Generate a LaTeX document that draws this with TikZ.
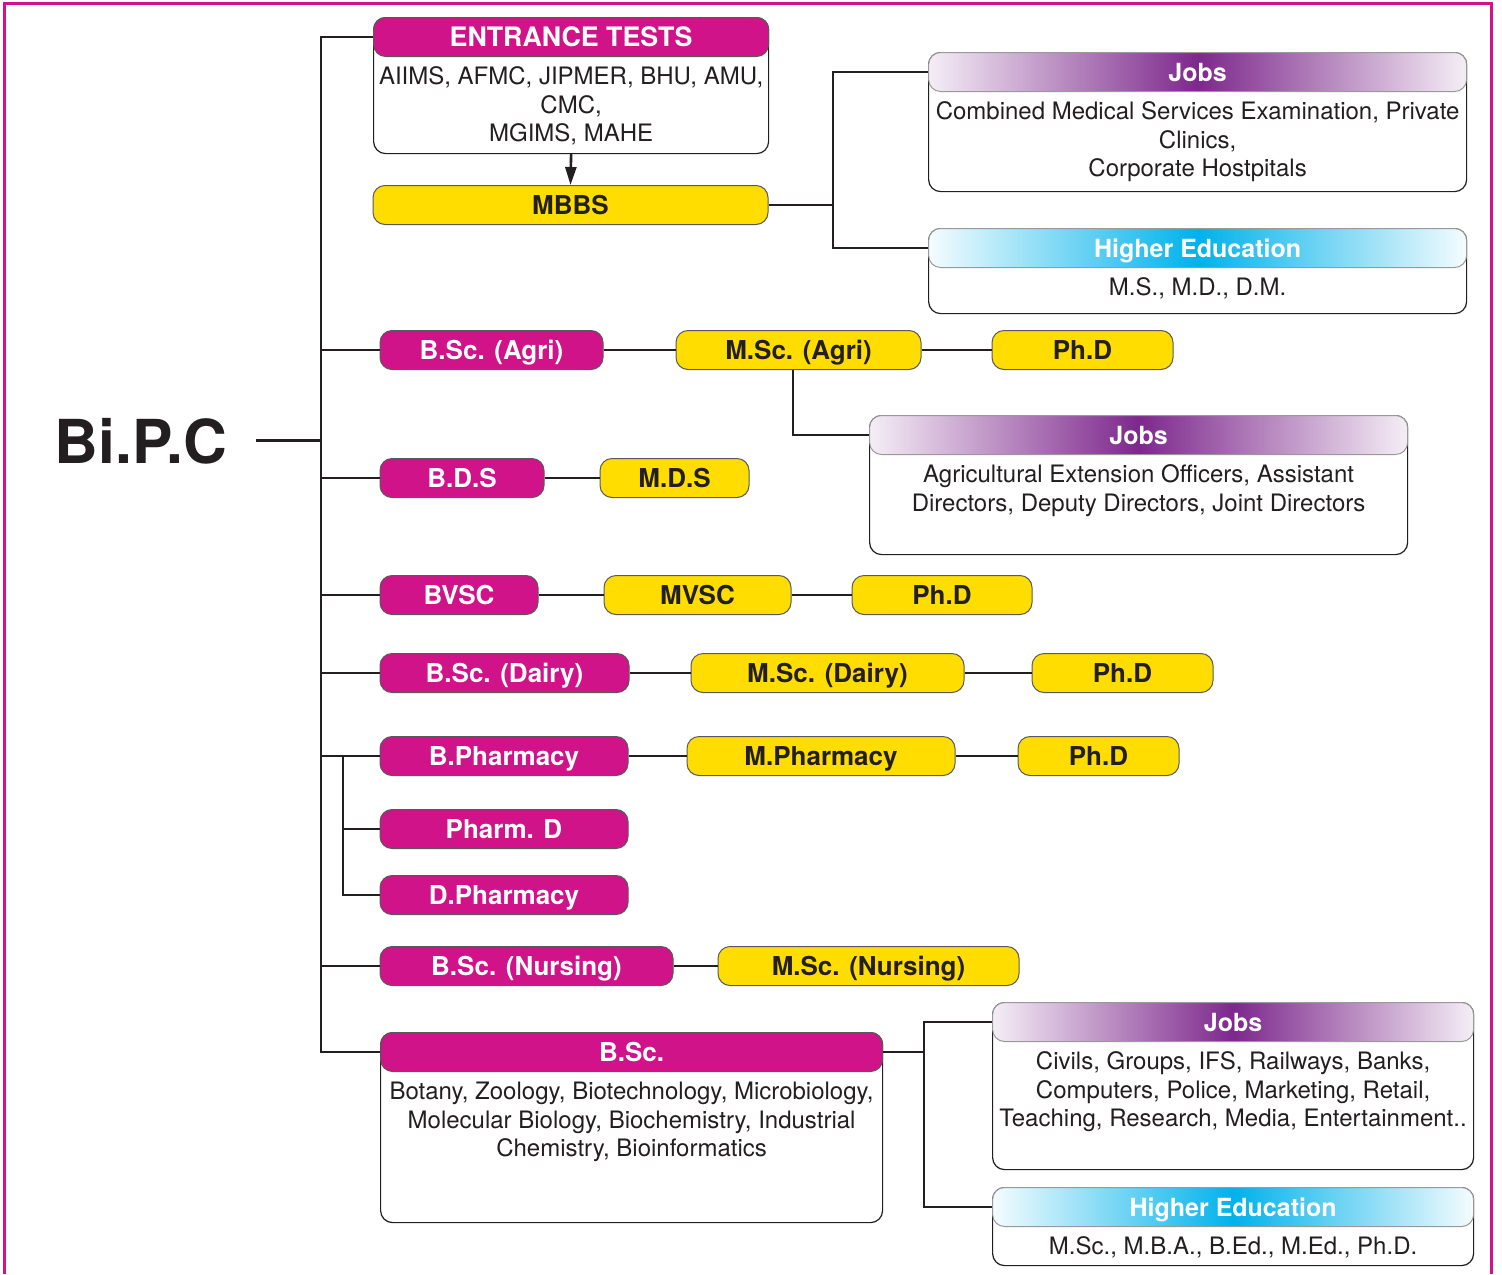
\documentclass[tikz,border=0pt]{standalone}
\usepackage{fontspec}
\setmainfont{TeX Gyre Heros}
\usetikzlibrary{arrows.meta}
\definecolor{bipcmagenta}{RGB}{209,19,138}
\definecolor{bipcyellow}{RGB}{255,221,0}
\definecolor{bipcpurple}{RGB}{125,40,140}
\definecolor{bipccyan}{RGB}{0,178,235}
\definecolor{bipcink}{RGB}{35,31,32}
\begin{document}
\begin{tikzpicture}
[x=0.5pt,y=-0.5pt,
 pill/.style={shape=rectangle,rounded corners=6pt,draw=black!65,line width=0.5pt,%
   font=\fontsize{13}{15}\selectfont\bfseries,minimum height=19.5pt,%
   text height=11.8pt,text depth=2.5pt,inner sep=0pt},%
 bachelor/.style={pill,fill=bipcmagenta,text=white},%
 master/.style={pill,fill=bipcyellow,text=bipcink},%
 jobshead/.style={pill,draw=black!40,text=white,font=\fontsize{12.5}{15}\selectfont\bfseries,%
   left color=bipcpurple!8,right color=bipcpurple!8,middle color=bipcpurple},%
 studyhead/.style={pill,draw=black!40,text=white,font=\fontsize{12.5}{15}\selectfont\bfseries,%
   left color=bipccyan!4,right color=bipccyan!4,middle color=bipccyan},%
 infobox/.style={shape=rectangle,rounded corners=6pt,draw=bipcink,line width=0.6pt,fill=white,inner sep=0pt},%
 infotext/.style={font=\fontsize{12}{14.25}\selectfont,text=bipcink,align=center,inner sep=0pt},%
 link/.style={-,line width=1.3pt,draw=bipcink}]
\useasboundingbox (0,0) rectangle (1502,1274);
%% frame
\draw[line width=1.5pt,draw=bipcmagenta] (4.5,1274) -- (4.5,3.5) -- (1491,3.5) -- (1491,1274);
%% stream
\node[font=\fontsize{30.3}{32}\selectfont\bfseries,text=bipcink,inner xsep=14pt,anchor=base] (bipc) at (141,463) {Bi.P.C};
\coordinate (trunk) at (321,0);
\coordinate (pharmtrunk) at (343,0);
\coordinate (mbbsfork) at (833,0);
\coordinate (bscfork) at (924,0);
%% degree courses
\foreach \nodename/\x/\y/\w/\txt in {
  bagri/491.5/350/223/{B.Sc. (Agri)}, bds/462/478/164/B.D.S, bvsc/459/595/158/BVSC,
  bdairy/504.5/673/249/{B.Sc. (Dairy)}, bpharm/504/756/248/B.Pharmacy,
  pharmd/504/829/248/{Pharm. D}, dpharm/504/895/248/D.Pharmacy,
  bnurse/526.5/966/293/{B.Sc. (Nursing)}} {
  \node[bachelor,minimum width=\w*0.5pt] (\nodename) at (\x,\y) {\txt};
}
\foreach \nodename/\x/\y/\w/\txt in {
  mbbs/570.5/205/395/MBBS, magri/798.5/350/245/{M.Sc. (Agri)}, phdagri/1082.5/350/181/Ph.D,
  mds/674.5/478/149/M.D.S, mvsc/697.5/595/187/MVSC, phdvsc/942/595/180/Ph.D,
  mdairy/827.5/673/273/{M.Sc. (Dairy)}, phddairy/1122.5/673/181/Ph.D,
  mpharm/821/756/268/M.Pharmacy, phdpharm/1098.5/756/161/Ph.D,
  mnurse/868.5/966/301/{M.Sc. (Nursing)}} {
  \node[master,minimum width=\w*0.5pt] (\nodename) at (\x,\y) {\txt};
}
%% boxes with a heading
\node[infobox,minimum width=197.5pt,minimum height=68pt,anchor=north west] (entr) at (373,17) {};
\node[bachelor,minimum width=197.5pt,anchor=north,font=\fontsize{13.4}{15}\selectfont\bfseries] (entrhead) at (entr.north) {ENTRANCE TESTS};
\node[infotext,anchor=north] (entrtext) at ([yshift=-4.8pt]entrhead.south) {AIIMS, AFMC, JIPMER, BHU, AMU,\\CMC,\\MGIMS, MAHE};

\node[infobox,minimum width=269pt,minimum height=69.5pt,anchor=north west] (jobsmbbs) at (928,52) {};
\node[jobshead,minimum width=269pt,anchor=north] (jobsmbbshead) at (jobsmbbs.north) {Jobs};
\node[infotext,anchor=north] (jobsmbbstext) at ([yshift=-4.8pt]jobsmbbshead.south) {Combined Medical Services Examination, Private\\Clinics,\\Corporate Hostpitals};

\node[infobox,minimum width=269pt,minimum height=42.5pt,anchor=north west] (hembbs) at (928,228) {};
\node[studyhead,minimum width=269pt,anchor=north] (hembbshead) at (hembbs.north) {Higher Education};
\node[infotext,anchor=north] (hembbstext) at ([yshift=-4.8pt]hembbshead.south) {M.S., M.D., D.M.};

\node[infobox,minimum width=269pt,minimum height=69.5pt,anchor=north west] (jobsagri) at (869,415) {};
\node[jobshead,minimum width=269pt,anchor=north] (jobsagrihead) at (jobsagri.north) {Jobs};
\node[infotext,anchor=north] (jobsagritext) at ([yshift=-4.8pt]jobsagrihead.south) {Agricultural Extension Officers, Assistant\\Directors, Deputy Directors, Joint Directors};

\node[infobox,minimum width=251pt,minimum height=95pt,anchor=north west] (bsc) at (380,1032) {};
\node[bachelor,minimum width=251pt,anchor=north] (bschead) at (bsc.north) {B.Sc.};
\node[infotext,anchor=north] (bsctext) at ([yshift=-4.8pt]bschead.south) {Botany, Zoology, Biotechnology, Microbiology,\\Molecular Biology, Biochemistry, Industrial\\Chemistry, Bioinformatics};

\node[infobox,minimum width=240.5pt,minimum height=83.5pt,anchor=north west] (jobsbsc) at (992,1002) {};
\node[jobshead,minimum width=240.5pt,anchor=north] (jobsbschead) at (jobsbsc.north) {Jobs};
\node[infotext,anchor=north] (jobsbsctext) at ([yshift=-4.8pt]jobsbschead.south) {Civils, Groups, IFS, Railways, Banks,\\Computers, Police, Marketing, Retail,\\Teaching, Research, Media, Entertainment..};

\node[infobox,minimum width=240.5pt,minimum height=39pt,anchor=north west] (hebsc) at (992,1187) {};
\node[studyhead,minimum width=240.5pt,anchor=north] (hebschead) at (hebsc.north) {Higher Education};
\node[infotext,anchor=north] (hebsctext) at ([yshift=-4.8pt]hebschead.south) {M.Sc., M.B.A., B.Ed., M.Ed., Ph.D.};
%% connectors
\draw[link] (bipc.east) -- (trunk |- bipc.east);
\draw[link] (entrhead.west) -- (trunk |- entrhead.west) -- (trunk |- bschead.west) -- (bschead.west);
\foreach \nodename in {bagri,bds,bvsc,bdairy,bpharm,bnurse}
  \draw[link] (trunk |- \nodename.west) -- (\nodename.west);
\draw[link] (pharmtrunk |- bpharm.west) -- (pharmtrunk |- dpharm.west) -- (dpharm.west);
\draw[link] (pharmtrunk |- pharmd.west) -- (pharmd.west);
\draw[link,-{Triangle[length=9pt,width=5.5pt]}] (entr.south) -- (mbbs.north);
\path
\foreach \startnode/\endnode in {bagri/magri, magri/phdagri, bds/mds, bvsc/mvsc, mvsc/phdvsc,
  bdairy/mdairy, mdairy/phddairy, bpharm/mpharm, mpharm/phdpharm, bnurse/mnurse} {
  (\startnode) edge[link] (\endnode)
};
\draw[link] (mbbs.east) -- (mbbsfork |- mbbs.east);
\draw[link] (jobsmbbshead.west) -- (mbbsfork |- jobsmbbshead.west) -- (mbbsfork |- hembbshead.west) -- (hembbshead.west);
\draw[link] ([xshift=-2.75pt]magri.south) |- (jobsagrihead.west);
\draw[link] (bschead.east) -- (bscfork |- bschead.east);
\draw[link] (jobsbschead.west) -- (bscfork |- jobsbschead.west) -- (bscfork |- hebschead.west) -- (hebschead.west);
\end{tikzpicture}
\end{document}
